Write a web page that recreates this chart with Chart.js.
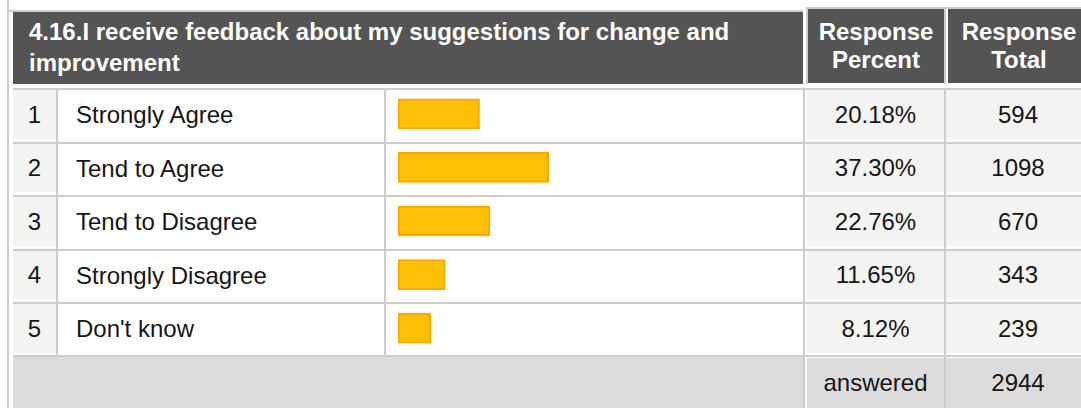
<!DOCTYPE html>
<html>
<head>
<meta charset="utf-8">
<script src="https://cdn.jsdelivr.net/npm/chart.js@4"></script>
<style>
    body {
        margin: 0;
        width: 1081px;
        height: 408px;
        overflow: hidden;
        background: #fff;
        position: relative;
        font-family: Arial, "Liberation Sans", sans-serif;
        font-size: 24px;
        color: #161616;
    }
    .cell {
        position: absolute;
        box-sizing: border-box;
        display: flex;
        align-items: center;
        white-space: nowrap;
    }
    .center { justify-content: center; }
    .hdr {
        background: #545454;
        color: #fff;
        font-weight: bold;
        line-height: 28px;
        text-align: center;
    }
    .line { position: absolute; background: #cdcdcd; }
    #barChart { position: absolute; left: 398px; top: 87px; z-index: 2; }
</style>
</head>
<body>
<canvas id="barChart" width="404" height="268"></canvas>
<script>
// Table data
const question = ['4.16.I receive feedback about my suggestions for change and', 'improvement'];
const labels = ['Strongly Agree', 'Tend to Agree', 'Tend to Disagree', 'Strongly Disagree', "Don't know"];
const percents = [20.18, 37.30, 22.76, 11.65, 8.12];
const totals = [594, 1098, 670, 343, 239];
const answered = 2944;

const ROW_TOP = 88;
const ROW_STEP = 53.6;
const FOOT_TOP = 355;

// Helper to place a box on the page
function addBox(x, y, w, h, cls, html, bg) {
    const el = document.createElement('div');
    el.className = cls;
    el.style.left = x + 'px';
    el.style.top = y + 'px';
    el.style.width = w + 'px';
    el.style.height = h + 'px';
    if (bg) el.style.background = bg;
    if (html !== undefined) el.innerHTML = html;
    document.body.appendChild(el);
    return el;
}

// Outer left rule
addBox(7, 0, 2, 408, 'line');

// Header
addBox(9, 10, 794, 2, 'line');
const title = addBox(13, 12, 790, 72, 'cell hdr');
title.style.display = 'block';
title.style.textAlign = 'left';
title.style.lineHeight = '31px';
title.style.padding = '4px 0 0 16px';
title.innerHTML = question.join('<br>');

addBox(806, 7, 275, 2, 'line');
addBox(806, 7, 2, 77, 'line');
addBox(944, 7, 2, 77, 'line');
addBox(808, 9, 136, 74, 'cell center hdr', 'Response<br>Percent');
addBox(948, 9, 142, 74, 'cell center hdr', 'Response<br>Total');

// Answer rows
labels.forEach((label, i) => {
    const y0 = Math.round(ROW_TOP + i * ROW_STEP);
    const y1 = Math.round(ROW_TOP + (i + 1) * ROW_STEP);
    addBox(13, y0, 1068, 2, 'line');
    addBox(56, y0 + 2, 2, y1 - y0 - 2, 'line');
    addBox(384, y0 + 2, 2, y1 - y0 - 2, 'line');
    addBox(803, y0 + 2, 2, y1 - y0 - 2, 'line');
    addBox(944, y0 + 2, 2, y1 - y0 - 2, 'line');

    addBox(13, y0 + 2, 43, y1 - y0 - 5, 'cell center', String(i + 1), '#f3f3f1');
    const lab = addBox(58, y0 + 2, 326, y1 - y0 - 4, 'cell', label);
    lab.style.paddingLeft = '18px';
    addBox(807, y0 + 2, 137, y1 - y0 - 5, 'cell center', percents[i].toFixed(2) + '%', '#f3f3f1');
    addBox(946, y0 + 2, 144, y1 - y0 - 5, 'cell center', String(totals[i]), '#f3f3f1');
});

// Footer
addBox(13, FOOT_TOP, 1068, 2, 'line');
addBox(803, FOOT_TOP, 2, 53, 'line');
addBox(944, FOOT_TOP, 2, 53, 'line');
addBox(13, FOOT_TOP + 2, 790, 51, 'cell', '', '#dcdcdc');
addBox(807, FOOT_TOP + 3, 137, 50, 'cell center', 'answered', '#dcdcdc');
addBox(946, FOOT_TOP + 3, 144, 50, 'cell center', String(answered), '#dcdcdc');

// Response bars
new Chart(document.getElementById('barChart'), {
    type: 'bar',
    data: {
        labels: labels,
        datasets: [{
            data: percents,
            backgroundColor: '#FFC107',
            borderColor: '#FFA500',
            borderWidth: 2,
            borderSkipped: false,
            barThickness: 30
        }]
    },
    options: {
        indexAxis: 'y',
        responsive: false,
        animation: false,
        devicePixelRatio: 1,
        layout: { padding: 0 },
        plugins: {
            legend: { display: false },
            tooltip: { enabled: false }
        },
        scales: {
            x: { display: false, min: 0, max: 100 },
            y: { display: false }
        }
    }
});
</script>
</body>
</html>
